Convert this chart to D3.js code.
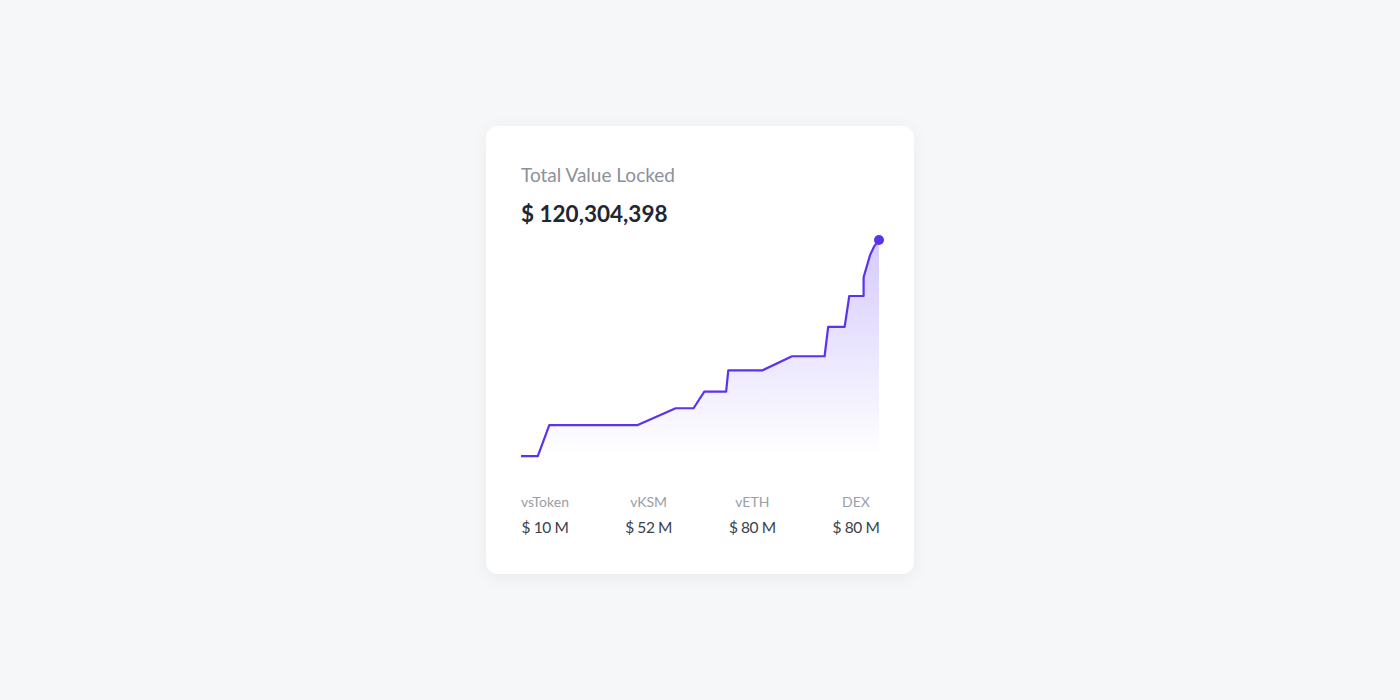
<!DOCTYPE html>
<html>
<head>
<meta charset="utf-8">
<script src="https://cdn.jsdelivr.net/npm/d3@7"></script>
<style>
  html, body { margin: 0; padding: 0; background: #f6f7f9; }
  svg { display: block; }
</style>
</head>
<body>
<svg id="chart" width="1400" height="700"></svg>
<script>
// TVL history, x = time step (0..100), y = value in $M
const tvlX = [0, 4.7, 7.9, 32.6, 43.2, 48.2, 51.2, 57.3, 57.9, 67.4, 75.7, 84.8, 85.8, 90.4, 91.7, 95.7, 95.7, 97.5, 98.6, 100];
const tvlY = [7.3, 7.3, 23.5, 23.5, 32.3, 32.3, 41.0, 41.0, 52.1, 52.1, 59.5, 59.5, 74.9, 74.9, 91.0, 91.0, 100.8, 112.4, 116.8, 120.3];

// breakdown below the chart
const products = ["vsToken", "vKSM", "vETH", "DEX"];
const productValues = ["$ 10 M", "$ 52 M", "$ 80 M", "$ 80 M"];

const totalLabel = "Total Value Locked";
const totalValue = "$ 120,304,398";

const svg = d3.select("#chart");

// card
const defs = svg.append("defs");
const shadow = defs.append("filter").attr("id", "shadow")
  .attr("x", "-20%").attr("y", "-20%").attr("width", "140%").attr("height", "140%");
shadow.append("feDropShadow")
  .attr("dx", 0).attr("dy", 4).attr("stdDeviation", 8)
  .attr("flood-color", "#1b2440").attr("flood-opacity", 0.05);

svg.append("rect")
  .attr("x", 486).attr("y", 126)
  .attr("width", 428).attr("height", 448)
  .attr("rx", 12)
  .attr("fill", "#fff")
  .attr("filter", "url(#shadow)");

// header texts
svg.append("text")
  .attr("x", 521).attr("y", 182)
  .attr("font-family", "Lato, 'Noto Sans', sans-serif")
  .attr("font-size", 19)
  .attr("fill", "#8b909b")
  .text(totalLabel);

svg.append("text")
  .attr("x", 521).attr("y", 222)
  .attr("font-family", "Lato, 'Noto Sans', sans-serif")
  .attr("font-weight", 700)
  .attr("font-size", 22.5)
  .attr("fill", "#222633")
  .text(totalValue);

// chart
const x = d3.scaleLinear().domain([0, 100]).range([521, 879]);
const y = d3.scaleLinear().domain([0, 120.3]).range([470, 240]);
const pts = tvlX.map((d, i) => [d, tvlY[i]]);

const grad = defs.append("linearGradient")
  .attr("id", "fade")
  .attr("x1", 0).attr("y1", 0).attr("x2", 0).attr("y2", 1);
grad.append("stop").attr("offset", "0%").attr("stop-color", "#7c5cf7").attr("stop-opacity", 0.32);
grad.append("stop").attr("offset", "100%").attr("stop-color", "#7c5cf7").attr("stop-opacity", 0);

const area = d3.area()
  .x(d => x(d[0]))
  .y0(y(9.5))
  .y1(d => y(d[1]));

svg.append("path")
  .datum(pts)
  .attr("d", area)
  .attr("fill", "url(#fade)");

const line = d3.line()
  .x(d => x(d[0]))
  .y(d => y(d[1]));

svg.append("path")
  .datum(pts)
  .attr("d", line)
  .attr("fill", "none")
  .attr("stroke", "#5b32ee")
  .attr("stroke-width", 2.2)
  .attr("stroke-linejoin", "round");

const last = pts[pts.length - 1];
svg.append("circle")
  .attr("cx", x(last[0]))
  .attr("cy", y(last[1]))
  .attr("r", 5)
  .attr("fill", "#5b32ee");

// breakdown
const col = d3.scalePoint().domain(products).range([545, 856]);

svg.selectAll(".prod")
  .data(products)
  .join("text")
  .attr("class", "prod")
  .attr("x", d => col(d))
  .attr("y", 507)
  .attr("text-anchor", "middle")
  .attr("font-family", "Lato, 'Noto Sans', sans-serif")
  .attr("font-size", 14)
  .attr("fill", "#999ea8")
  .text(d => d);

svg.selectAll(".val")
  .data(products)
  .join("text")
  .attr("class", "val")
  .attr("x", d => col(d))
  .attr("y", 533)
  .attr("text-anchor", "middle")
  .attr("font-family", "Lato, 'Noto Sans', sans-serif")
  .attr("font-size", 15.5)
  .attr("letter-spacing", -0.4)
  .attr("fill", "#3b404c")
  .text((d, i) => productValues[i]);
</script>
</body>
</html>
